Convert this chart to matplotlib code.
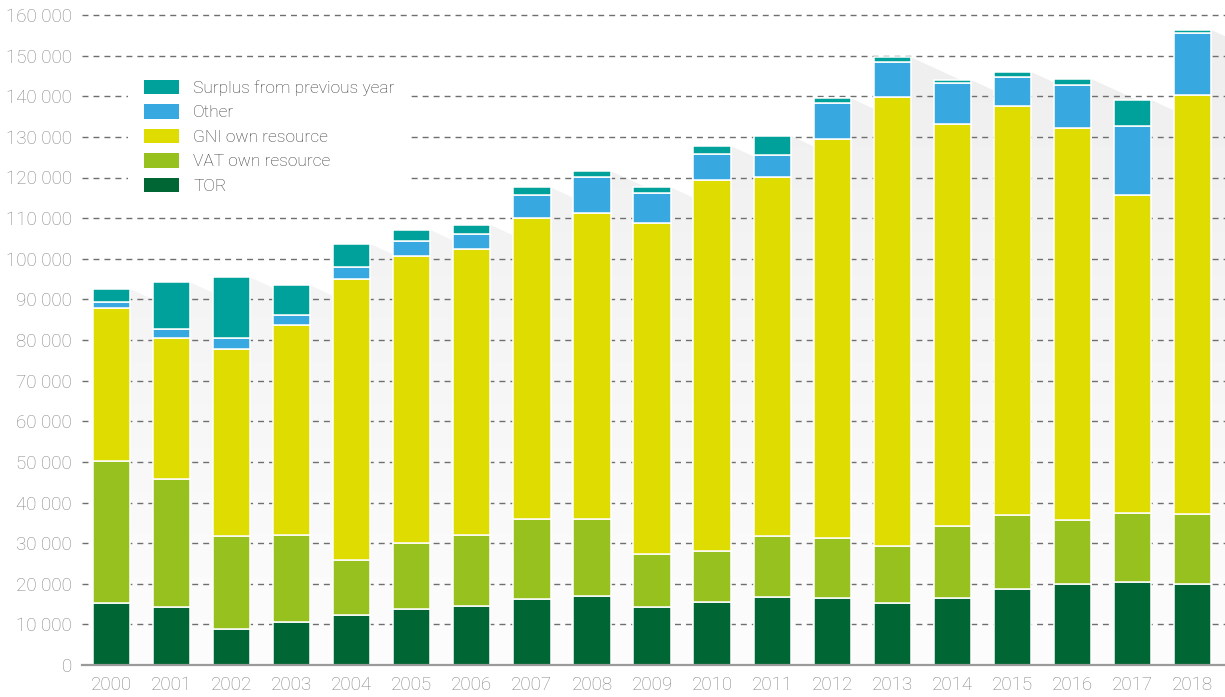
import numpy as np
import matplotlib
matplotlib.use("Agg")
import matplotlib.pyplot as plt
from matplotlib.patches import Polygon, Patch
from matplotlib.colors import LinearSegmentedColormap

# EU budget revenue by source, EUR million
years = list(range(2000, 2019))
tor = [15200, 14290, 8970, 10690, 12240, 13890, 14630, 16350, 17090, 14290,
       15520, 16670, 16430, 15200, 16430, 18820, 19950, 20370, 19880]
vat = [35050, 31520, 22730, 21430, 13720, 16160, 17490, 19710, 18970, 12980,
       12480, 15030, 14780, 14040, 17730, 18130, 15860, 17070, 17410]
gni = [37530, 34660, 46060, 51550, 69040, 70690, 70270, 73960, 75190, 81560,
       91380, 88420, 98270, 110660, 98940, 100660, 96460, 78250, 103030]
other = [1630, 2140, 2780, 2460, 2880, 3690, 3690, 5740, 8800, 7350,
         6410, 5350, 8940, 8470, 10170, 7140, 10510, 16990, 15270]
surplus = [3130, 11580, 14880, 7320, 5740, 2640, 2220, 1820, 1550, 1400,
           1970, 4750, 1080, 1230, 740, 1230, 1480, 6410, 740]

series = [
    ("TOR", tor, "#006633"),
    ("VAT own resource", vat, "#97C11E"),
    ("GNI own resource", gni, "#DEDC00"),
    ("Other", other, "#38A8E0"),
    ("Surplus from previous year", surplus, "#00A19A"),
]
y_ticks = list(range(0, 160001, 10000))

plt.rcParams["font.family"] = ["Roboto", "DejaVu Sans"]

W, H = 1225, 697
fig = plt.figure(figsize=(W / 100, H / 100), dpi=100)
fig.patch.set_facecolor("white")

ymax = 161500
x0_px, x1_px = 81.5, 1225
y_base_px, y_top_px = 665, 665 - (665 - 15) / 160000 * ymax
ax = fig.add_axes([x0_px / W, (H - y_base_px) / H,
                   (x1_px - x0_px) / W, (y_base_px - y_top_px) / H])
ax.set_facecolor("white")

x = np.arange(len(years))
bar_w = 0.62
ax.set_xlim(-0.5, 18.54)
ax.set_ylim(0, ymax)

# diagonal drop shadows behind each bar (45 degrees in screen space)
totals = np.sum([s[1] for s in series], axis=0)
fig.canvas.draw()
p0 = ax.transData.transform((0, 0))
p1 = ax.transData.transform((1, 10000))
slope = (p1[1] - p0[1]) / (p1[0] - p0[0]) * 10000  # data-y per data-x for 45 deg
shadow_cmap = LinearSegmentedColormap.from_list("shade", ["#fdfdfd", "#eeeeee"])
grad = np.linspace(0, 1, 256).reshape(-1, 1)
for xi, top in zip(x, totals):
    xr = xi + bar_w / 2
    L = 1.0
    poly = Polygon([(xr, 0), (xr, top), (xr + L, top - L * slope), (xr + L, 0)],
                   closed=True, facecolor="none", edgecolor="none",
                   transform=ax.transData)
    ax.add_patch(poly)
    im = ax.imshow(grad, cmap=shadow_cmap, origin="lower", aspect="auto",
                   extent=(-0.5, 18.54, 0, 160000), zorder=0.5,
                   interpolation="bilinear")
    im.set_clip_path(poly)
ax.set_xlim(-0.5, 18.54)
ax.set_ylim(0, ymax)

# dashed horizontal grid
for yv in y_ticks[1:]:
    ax.axhline(yv, color="#6f6f6f", linewidth=1.0, linestyle=(0, (4.3, 3.6)),
               zorder=1)

# stacked bars
bottom = np.zeros(len(years))
handles = []
for name, vals, col in series:
    ax.bar(x, vals, bar_w, bottom=bottom, color=col, edgecolor="white",
           linewidth=1.1, zorder=2)
    bottom += np.array(vals)
    handles.append(Patch(facecolor=col, edgecolor="none", label=name))

# axes styling
for side in ("left", "right", "top"):
    ax.spines[side].set_visible(False)
ax.spines["bottom"].set_color("#9a9a9a")
ax.spines["bottom"].set_linewidth(1.6)
ax.spines["bottom"].set_zorder(3)

ax.set_yticks(y_ticks)
ax.set_yticklabels([f"{v:,}".replace(",", " ") for v in y_ticks])
ax.set_xticks(x)
ax.set_xticklabels([str(y) for y in years])
ax.tick_params(axis="both", length=0, labelsize=13.5, colors="#858585")
ax.tick_params(axis="y", pad=7)
ax.tick_params(axis="x", pad=8)
for lab in ax.get_xticklabels() + ax.get_yticklabels():
    lab.set_fontweight("light")

leg = ax.legend(handles=handles[::-1], loc="upper left",
                bbox_to_anchor=(128 / W, 1 - 64 / H),
                bbox_transform=fig.transFigure, frameon=True, fancybox=False,
                framealpha=1, facecolor="white", edgecolor="none",
                fontsize=12.5, handlelength=2.05, handleheight=0.9,
                handletextpad=0.8, labelspacing=0.48, borderpad=0.9,
                borderaxespad=0)
leg.set_zorder(4)
for t in leg.get_texts():
    t.set_color("#3c3c3c")
    t.set_fontweight("light")

fig.savefig("out.png", dpi=100, facecolor="white")
